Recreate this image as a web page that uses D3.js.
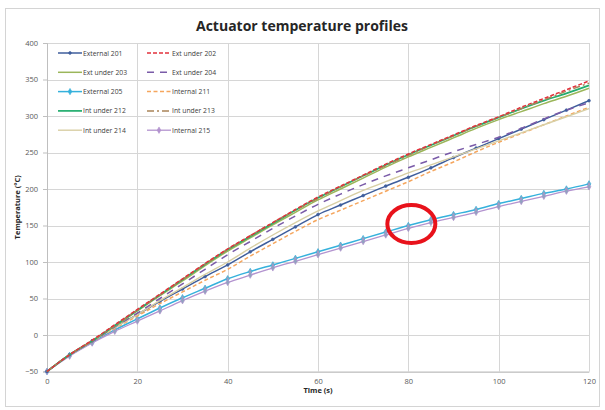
<!DOCTYPE html>
<html>
  <head>
    <title>Actuator temperature profiles</title>
    <script src="https://cdn.jsdelivr.net/npm/d3@7"></script>
    <style>
      body { margin: 0; background: #fff; }
      text { font-family: "Open Sans", "Liberation Sans", sans-serif; }
      .grid line { stroke: #d6d6d6; }
      .axis text { fill: #595959; font-size: 7.5px; }
    </style>
  </head>
  <body>
    <svg id="chart" width="605" height="410"></svg>
  </body>
  <script>
    // time in seconds, one point every 5 s
    const times = [0, 5, 10, 15, 20, 25, 30, 35, 40, 45, 50, 55, 60, 65, 70, 75, 80, 85, 90, 95, 100, 105, 110, 115, 120];

    const ext201 = [-50, -27, -8, 11, 28, 46, 63, 80, 96, 114, 131, 148, 165, 178, 191, 204, 216, 229, 243, 256, 269, 282, 295, 308, 321];
    const ext202 = [-50, -27, -7, 14, 35, 56, 77, 98, 118, 136, 154, 172, 189, 204, 219, 234, 248, 261, 274, 287, 299, 312, 324, 336, 348];
    const ext203 = [-50, -27, -8, 12, 33, 54, 74, 95, 115, 133, 151, 168, 185, 200, 215, 230, 244, 257, 270, 283, 295, 306, 317, 327, 338];
    const ext204 = [-50, -27, -9, 11, 30, 50, 70, 90, 110, 128, 146, 163, 179, 193, 206, 218, 229, 240, 251, 261, 271, 283, 296, 308, 318];
    const ext205 = [-50, -28, -10, 7, 22, 37, 51, 64, 77, 87, 96, 105, 114, 123, 132, 141, 150, 158, 165, 172, 180, 187, 194, 200, 207];
    const int211 = [-50, -27, -9, 9, 26, 43, 59, 75, 90, 108, 125, 142, 158, 171, 184, 197, 210, 224, 237, 251, 264, 276, 288, 300, 312];
    const int212 = [-50, -27, -8, 13, 34, 55, 76, 97, 117, 135, 153, 171, 188, 203, 218, 233, 247, 260, 273, 286, 298, 310, 321, 331, 342];
    const int213 = [-50, -27, -8, 13, 34, 55, 76, 97, 117, 136, 154, 171, 187, 203, 218, 232, 246, 260, 273, 286, 298, 310, 322, 334, 345];
    const int214 = [-50, -27, -8, 10, 28, 47, 65, 83, 100, 119, 137, 154, 170, 184, 198, 210, 222, 233, 244, 255, 266, 277, 288, 299, 310];
    const int215 = [-50, -29, -11, 5, 19, 33, 47, 60, 72, 82, 92, 101, 110, 119, 128, 137, 146, 154, 161, 168, 176, 183, 190, 197, 203];

    const xTicks = [0, 20, 40, 60, 80, 100, 120];
    const yTicks = [-50, 0, 50, 100, 150, 200, 250, 300, 350, 400];

    const series = [
      { name: "External 201", values: ext201, color: "#3f5e9c", dash: null, marker: "circle", width: 1.5 },
      { name: "Ext under 202", values: ext202, color: "#e2323c", dash: "4,2", marker: null, width: 1.5 },
      { name: "Ext under 203", values: ext203, color: "#9bb65a", dash: null, marker: null, width: 1.5 },
      { name: "Ext under 204", values: ext204, color: "#7a5ba8", dash: "7,6", marker: null, width: 1.5 },
      { name: "External 205", values: ext205, color: "#35b1dc", dash: null, marker: "diamond", width: 1.5 },
      { name: "Internal 211", values: int211, color: "#f5a65e", dash: "4,2.5", marker: null, width: 1.5 },
      { name: "Int under 212", values: int212, color: "#22ad6e", dash: null, marker: null, width: 1.7 },
      { name: "Int under 213", values: int213, color: "#a98458", dash: "7,3,2,3", marker: null, width: 1.5 },
      { name: "Int under 214", values: int214, color: "#d8cfa4", dash: null, marker: null, width: 1.4 },
      { name: "Internal 215", values: int215, color: "#b393cf", dash: null, marker: "diamond", width: 1.3 }
    ];

    const svg = d3.select("#chart");

    // outer chart frame
    svg.append("rect")
      .attr("x", 5.5).attr("y", 8.5)
      .attr("width", 594).attr("height", 398)
      .attr("fill", "#fff").attr("stroke", "#d4d4d4");

    const x = d3.scaleLinear().domain([0, 120]).range([47, 589]);
    const y = d3.scaleLinear().domain([-50, 400]).range([371.5, 43]);

    // gridlines
    const grid = svg.append("g").attr("class", "grid");
    grid.selectAll(".h").data(yTicks).enter().append("line")
      .attr("x1", x(0)).attr("x2", x(120))
      .attr("y1", d => Math.round(y(d)) + 0.5).attr("y2", d => Math.round(y(d)) + 0.5);
    grid.selectAll(".v").data(xTicks).enter().append("line")
      .attr("y1", y(400)).attr("y2", y(-50))
      .attr("x1", d => Math.round(x(d)) + 0.5).attr("x2", d => Math.round(x(d)) + 0.5);

    // axes
    const yAxis = svg.append("g").attr("class", "axis")
      .attr("transform", `translate(${x(0)},0)`)
      .call(d3.axisLeft(y).tickValues(yTicks).tickSize(4).tickPadding(5));
    yAxis.select(".domain").attr("stroke", "#bfbfbf");
    yAxis.selectAll(".tick line").attr("stroke", "#bfbfbf");

    const xAxis = svg.append("g").attr("class", "axis")
      .attr("transform", `translate(0,${y(-50)})`)
      .call(d3.axisBottom(x).tickValues(xTicks).tickSize(0).tickPadding(7));
    xAxis.select(".domain").attr("stroke", "#bfbfbf");

    // titles
    svg.append("text")
      .attr("x", 302).attr("y", 31)
      .attr("text-anchor", "middle")
      .attr("font-size", 14).attr("font-weight", "bold").attr("fill", "#262626")
      .text("Actuator temperature profiles");

    svg.append("text")
      .attr("x", 318).attr("y", 393)
      .attr("text-anchor", "middle")
      .attr("font-size", 7.5).attr("font-weight", "bold").attr("fill", "#262626")
      .text("Time (s)");

    svg.append("text")
      .attr("transform", `translate(20,${y(175)}) rotate(-90)`)
      .attr("text-anchor", "middle")
      .attr("font-size", 7.5).attr("font-weight", "bold").attr("fill", "#262626")
      .text("Temperature (°C)");

    // lines
    const line = d3.line()
      .x((d, i) => x(times[i]))
      .y(d => y(d))
      .curve(d3.curveMonotoneX);

    const diamond = d3.symbol().type(d3.symbolDiamond).size(12);
    const dot = d3.symbol().type(d3.symbolCircle).size(6);

    const drawOrder = [4, 9, 0, 5, 8, 3, 2, 6, 7, 1];
    drawOrder.forEach(k => {
      const s = series[k];
      const g = svg.append("g");
      g.append("path")
        .attr("d", line(s.values))
        .attr("fill", "none")
        .attr("stroke", s.color)
        .attr("stroke-width", s.width)
        .attr("stroke-dasharray", s.dash);
      if (s.marker) {
        g.selectAll("path.m").data(s.values).enter().append("path")
          .attr("class", "m")
          .attr("transform", (d, i) => `translate(${x(times[i])},${y(d)})`)
          .attr("d", s.marker === "diamond" ? diamond : dot)
          .attr("fill", s.marker === "diamond" ? "#8fa3bf" : s.color)
          .attr("stroke", s.color).attr("stroke-width", 0.7);
      }
    });

    // legend, two columns inside the plot
    const legend = svg.append("g");
    series.forEach((s, i) => {
      const col = i % 2, row = Math.floor(i / 2);
      const lx = col === 0 ? 58 : 147;
      const ly = 53 + row * 19.3;
      const item = legend.append("g").attr("transform", `translate(${lx},${ly})`);
      item.append("line")
        .attr("x1", 0).attr("x2", 24).attr("y1", 0).attr("y2", 0)
        .attr("stroke", s.color).attr("stroke-width", s.width)
        .attr("stroke-dasharray", s.dash);
      if (s.marker) {
        item.append("path")
          .attr("transform", "translate(12,0)")
          .attr("d", s.marker === "diamond" ? diamond : dot)
          .attr("fill", s.color).attr("stroke", s.color).attr("stroke-width", 0.6);
      }
      item.append("text")
        .attr("x", 25).attr("y", 2.5)
        .attr("font-size", 6.8).attr("fill", "#404040")
        .text(s.name);
    });

    // red highlight ellipse around t = 80 s
    svg.append("ellipse")
      .attr("cx", x(80) + 3).attr("cy", y(152))
      .attr("rx", 24).attr("ry", 19)
      .attr("fill", "none").attr("stroke", "#e8121b").attr("stroke-width", 4);
  </script>
</html>
